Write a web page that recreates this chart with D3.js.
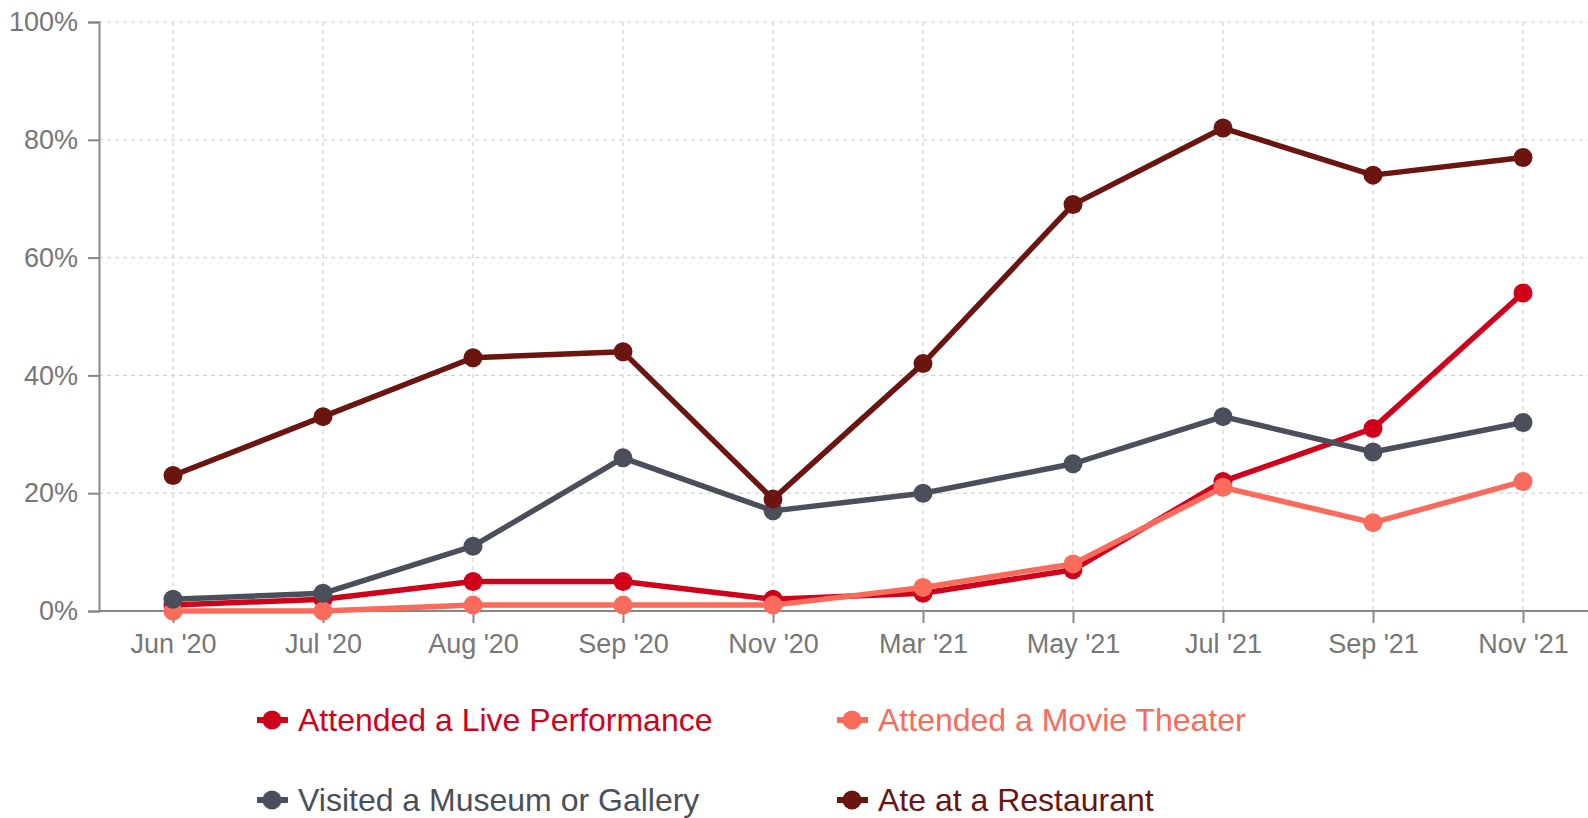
<!DOCTYPE html>
<html>
<head>
<meta charset="utf-8">
<script src="https://cdn.jsdelivr.net/npm/d3@7"></script>
<style>
  body { margin: 0; background: #fff; }
  svg { display: block; font-family: "Liberation Sans", Arial, sans-serif; }
</style>
</head>
<body>
<svg id="chart" width="1588" height="818"></svg>
<script>
// data
const months = ["Jun '20", "Jul '20", "Aug '20", "Sep '20", "Nov '20", "Mar '21", "May '21", "Jul '21", "Sep '21", "Nov '21"];
const livePerformance = [1, 2, 5, 5, 2, 3, 7, 22, 31, 54];
const movieTheater = [0, 0, 1, 1, 1, 4, 8, 21, 15, 22];
const museum = [2, 3, 11, 26, 17, 20, 25, 33, 27, 32];
const restaurant = [23, 33, 43, 44, 19, 42, 69, 82, 74, 77];
const yTicks = [0, 20, 40, 60, 80, 100];

const series = [
  { name: "Attended a Live Performance", values: livePerformance, color: "#d0021b" },
  { name: "Attended a Movie Theater", values: movieTheater, color: "#fa6b5c" },
  { name: "Visited a Museum or Gallery", values: museum, color: "#4b4f5b" },
  { name: "Ate at a Restaurant", values: restaurant, color: "#6b1410" }
];

const svg = d3.select("#chart");
const plotLeft = 99, plotTop = 22, plotBottom = 611;

const x = d3.scalePoint().domain(months).range([98, 1598]).padding(0.5);
const y = d3.scaleLinear().domain([0, 100]).range([plotBottom, plotTop]);

// grid
const grid = svg.append("g").attr("stroke", "#d4d4d4").attr("stroke-dasharray", "4,4").attr("stroke-width", 1.2);
grid.selectAll(".hg").data(yTicks.filter(d => d > 0)).join("line")
  .attr("x1", plotLeft).attr("x2", 1588)
  .attr("y1", d => y(d)).attr("y2", d => y(d));
grid.selectAll(".vg").data(months).join("line")
  .attr("x1", d => x(d)).attr("x2", d => x(d))
  .attr("y1", plotTop).attr("y2", plotBottom);

// axes
const yAxis = svg.append("g").attr("transform", `translate(${plotLeft},0)`)
  .call(d3.axisLeft(y).tickValues(yTicks).tickFormat(d => d + "%").tickSize(11).tickPadding(10));
const xAxis = svg.append("g").attr("transform", `translate(0,${plotBottom})`)
  .call(d3.axisBottom(x).tickSize(12).tickPadding(11));
[yAxis, xAxis].forEach(a => {
  a.select(".domain").attr("stroke", "#888").attr("stroke-width", 2);
  a.selectAll(".tick line").attr("stroke", "#888").attr("stroke-width", 2);
  a.selectAll("text").attr("fill", "#777").style("font-size", "27px");
});
xAxis.select(".domain").attr("d", `M${plotLeft},0H1588`);

// lines + dots
const line = d3.line().x((d, i) => x(months[i])).y(d => y(d));
series.forEach(s => {
  const g = svg.append("g");
  g.append("path").datum(s.values)
    .attr("d", line).attr("fill", "none")
    .attr("stroke", s.color).attr("stroke-width", 5.5).attr("stroke-linejoin", "round");
  g.selectAll("circle").data(s.values).join("circle")
    .attr("cx", (d, i) => x(months[i])).attr("cy", d => y(d))
    .attr("r", 9.5).attr("fill", s.color);
});

// legend
const legendPos = [[257, 720], [837, 720], [257, 800], [837, 800]];
series.forEach((s, i) => {
  const [lx, ly] = legendPos[i];
  const g = svg.append("g").attr("transform", `translate(${lx},${ly})`);
  g.append("line").attr("x1", 0).attr("x2", 31).attr("stroke", s.color).attr("stroke-width", 6);
  g.append("circle").attr("cx", 15).attr("r", 9.5).attr("fill", s.color);
  g.append("text").attr("x", 41).attr("dy", "0.35em")
    .attr("fill", s.color).style("font-size", "32px").text(s.name);
});
</script>
</body>
</html>
